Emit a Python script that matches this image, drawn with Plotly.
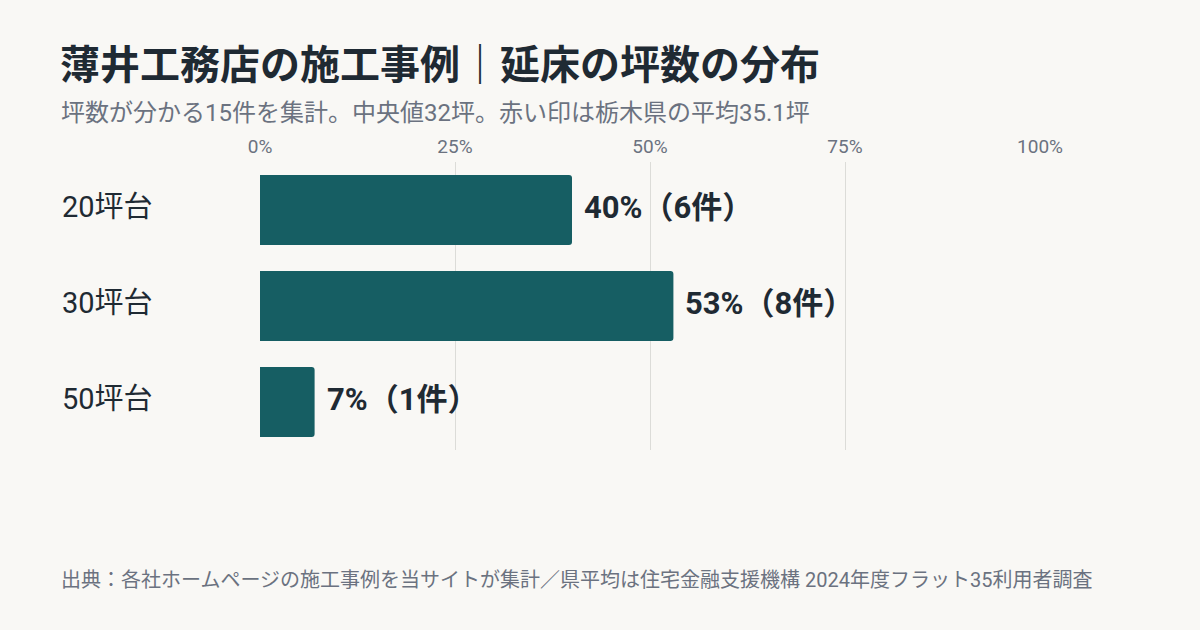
import plotly.graph_objects as go

# 延床の坪数の分布（薄井工務店の施工事例 15件）
categories = ["20坪台", "30坪台", "50坪台"]
shares = [40, 53, 7]            # 構成比 %
counts = [6, 8, 1]              # 件数
tick_values = [0, 25, 50, 75, 100]
tick_labels = ["0%", "25%", "50%", "75%", "100%"]

title_text = "薄井工務店の施工事例｜延床の坪数の分布"
subtitle_text = "坪数が分かる15件を集計。中央値32坪。赤い印は栃木県の平均35.1坪"
source_text = "出典：各社ホームページの施工事例を当サイトが集計／県平均は住宅金融支援機構 2024年度フラット35利用者調査"

FONT = "Roboto, Noto Sans CJK JP"
BG = "#f9f8f5"
BAR = "#165e63"
DARK = "#1f2a33"
GRAY = "#6b7280"

# plot area in pixels: x 260..1040, y 162..450
def px_x(px):
    return (px - 260) / 780

def px_y(py):
    return (450 - py) / 288

fig = go.Figure()
fig.add_trace(go.Bar(
    x=shares,
    y=categories,
    orientation="h",
    marker=dict(color=BAR, cornerradius=3, line=dict(width=0)),
    width=0.73,
    hoverinfo="skip",
))

# 棒の右の値ラベル
for cat, s, c in zip(categories, shares, counts):
    fig.add_annotation(
        x=s, xref="x", y=cat, yref="y",
        text=f"{s}%（{c}件）", showarrow=False,
        xanchor="left", yanchor="middle", xshift=10, yshift=3,
        font=dict(family=FONT, size=31, color=DARK, weight="bold"),
    )

# カテゴリ名（左寄せ）
for cat in categories:
    fig.add_annotation(
        x=px_x(60), xref="paper", y=cat, yref="y",
        text=cat, showarrow=False, xanchor="left", yanchor="middle", yshift=3,
        font=dict(family=FONT, size=29, color=DARK),
    )

fig.add_annotation(
    x=px_x(58), xref="paper", y=px_y(65), yref="paper", text=title_text,
    showarrow=False, xanchor="left", yanchor="middle",
    font=dict(family=FONT, size=40, color=DARK, weight="bold"),
)
fig.add_annotation(
    x=px_x(59), xref="paper", y=px_y(113), yref="paper", text=subtitle_text,
    showarrow=False, xanchor="left", yanchor="middle",
    font=dict(family=FONT, size=24, color=GRAY),
)
fig.add_annotation(
    x=px_x(59), xref="paper", y=px_y(580), yref="paper", text=source_text,
    showarrow=False, xanchor="left", yanchor="middle",
    font=dict(family=FONT, size=20, color=GRAY),
)

fig.update_layout(
    width=1200, height=630,
    margin=dict(l=260, r=160, t=162, b=180),
    paper_bgcolor=BG, plot_bgcolor=BG,
    showlegend=False,
)
fig.update_xaxes(
    range=[0, 100], side="top",
    tickvals=tick_values, ticktext=tick_labels,
    tickfont=dict(family=FONT, size=19, color=GRAY),
    ticklabelstandoff=4,
    showgrid=True, gridcolor="#dcdcd8", gridwidth=1,
    zeroline=False, showline=False, ticks="",
)
fig.update_yaxes(
    autorange="reversed", showticklabels=False,
    showgrid=False, zeroline=False, showline=False,
)

fig.write_html(
    "out.html",
    config={"displayModeBar": False},
    post_script="document.body.style.margin='0';",
)
